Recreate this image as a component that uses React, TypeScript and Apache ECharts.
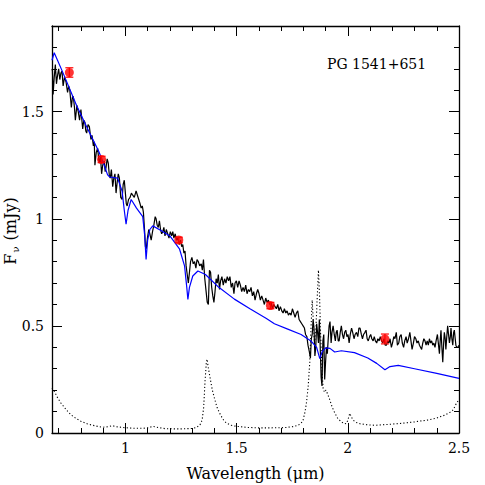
import React, { useEffect, useRef } from "react";
import * as echarts from "echarts";

// Observed spectrum (wavelength in micron, flux in mJy)
const observedSpectrum: [number, number][] = [
  [0.670, 1.70], [0.672, 1.69], [0.675, 1.58], [0.680, 1.66], [0.685, 1.72], [0.690, 1.63], [0.695, 1.67],
  [0.700, 1.70], [0.705, 1.65], [0.710, 1.68], [0.715, 1.69], [0.720, 1.62], [0.726, 1.66], [0.733, 1.64],
  [0.740, 1.59], [0.745, 1.62], [0.750, 1.60], [0.757, 1.52], [0.762, 1.57], [0.766, 1.57], [0.771, 1.52],
  [0.775, 1.46], [0.782, 1.53], [0.788, 1.50], [0.794, 1.46], [0.800, 1.51], [0.808, 1.42], [0.813, 1.46],
  [0.818, 1.45], [0.822, 1.41], [0.826, 1.40], [0.832, 1.44], [0.838, 1.43], [0.845, 1.37], [0.850, 1.39],
  [0.856, 1.34], [0.860, 1.36], [0.863, 1.25], [0.869, 1.31], [0.875, 1.33], [0.880, 1.28], [0.883, 1.26],
  [0.888, 1.29], [0.893, 1.21], [0.898, 1.25], [0.905, 1.27], [0.909, 1.22], [0.913, 1.24], [0.918, 1.28],
  [0.923, 1.26], [0.928, 1.20], [0.932, 1.19], [0.937, 1.23], [0.943, 1.15], [0.948, 1.19], [0.953, 1.21],
  [0.958, 1.12], [0.963, 1.17], [0.968, 1.21], [0.973, 1.19], [0.979, 1.10], [0.985, 1.09], [0.990, 1.16],
  [0.995, 1.18], [1.000, 1.12], [1.004, 1.07], [1.008, 1.06], [1.014, 1.09], [1.021, 1.10], [1.027, 1.12],
  [1.033, 1.11], [1.040, 1.10], [1.048, 1.13], [1.054, 1.11], [1.060, 1.09], [1.066, 1.07], [1.071, 1.05],
  [1.076, 1.06], [1.081, 1.03], [1.086, 0.95], [1.090, 0.87], [1.094, 0.86], [1.099, 0.91], [1.105, 0.95],
  [1.110, 0.93], [1.116, 0.90], [1.122, 0.94], [1.128, 0.97], [1.134, 1.01], [1.138, 1.00], [1.143, 0.97],
  [1.148, 0.96], [1.153, 0.99], [1.158, 0.95], [1.163, 0.93], [1.168, 0.94], [1.173, 0.96], [1.178, 0.92],
  [1.184, 0.95], [1.190, 0.93], [1.196, 0.91], [1.202, 0.94], [1.208, 0.92], [1.213, 0.94], [1.218, 0.91],
  [1.224, 0.93], [1.230, 0.90], [1.236, 0.91], [1.242, 0.88], [1.248, 0.90], [1.253, 0.87], [1.258, 0.88],
  [1.263, 0.84], [1.268, 0.85], [1.273, 0.78], [1.278, 0.74], [1.283, 0.70], [1.288, 0.75], [1.293, 0.80],
  [1.299, 0.82], [1.305, 0.79], [1.311, 0.80], [1.317, 0.77], [1.322, 0.81], [1.328, 0.80], [1.334, 0.78],
  [1.341, 0.79], [1.346, 0.76], [1.351, 0.81], [1.357, 0.72], [1.363, 0.66], [1.368, 0.61], [1.373, 0.60],
  [1.378, 0.76], [1.383, 0.75], [1.388, 0.68], [1.393, 0.64], [1.398, 0.61], [1.403, 0.66], [1.408, 0.72],
  [1.413, 0.70], [1.418, 0.74], [1.423, 0.67], [1.428, 0.71], [1.434, 0.73], [1.440, 0.69], [1.446, 0.72],
  [1.452, 0.70], [1.458, 0.73], [1.464, 0.71], [1.470, 0.73], [1.476, 0.68], [1.482, 0.70], [1.488, 0.65],
  [1.493, 0.70], [1.499, 0.71], [1.505, 0.68], [1.511, 0.71], [1.517, 0.69], [1.523, 0.66], [1.529, 0.68],
  [1.535, 0.66], [1.541, 0.69], [1.547, 0.65], [1.553, 0.67], [1.559, 0.66], [1.565, 0.68], [1.571, 0.64],
  [1.577, 0.66], [1.583, 0.62], [1.589, 0.65], [1.595, 0.67], [1.601, 0.65], [1.607, 0.62], [1.613, 0.64],
  [1.619, 0.62], [1.625, 0.60], [1.631, 0.63], [1.637, 0.61], [1.643, 0.62], [1.649, 0.60], [1.655, 0.61],
  [1.661, 0.58], [1.667, 0.60], [1.673, 0.59], [1.679, 0.58], [1.685, 0.60], [1.691, 0.57], [1.697, 0.59],
  [1.703, 0.57], [1.709, 0.56], [1.715, 0.58], [1.721, 0.56], [1.727, 0.57], [1.733, 0.55], [1.739, 0.56],
  [1.745, 0.55], [1.751, 0.58], [1.757, 0.56], [1.763, 0.54], [1.769, 0.56], [1.775, 0.57], [1.781, 0.53],
  [1.787, 0.52], [1.793, 0.51], [1.799, 0.50], [1.805, 0.49], [1.810, 0.46], [1.816, 0.45], [1.821, 0.41],
  [1.827, 0.38], [1.832, 0.35], [1.836, 0.44], [1.840, 0.46], [1.844, 0.53], [1.848, 0.49], [1.852, 0.36],
  [1.856, 0.40], [1.860, 0.51], [1.864, 0.47], [1.868, 0.42], [1.872, 0.53], [1.876, 0.40], [1.880, 0.26],
  [1.884, 0.22], [1.888, 0.43], [1.892, 0.46], [1.896, 0.25], [1.900, 0.33], [1.904, 0.40], [1.908, 0.37],
  [1.912, 0.44], [1.916, 0.50], [1.920, 0.52], [1.925, 0.42], [1.929, 0.47], [1.934, 0.50], [1.939, 0.46],
  [1.944, 0.43], [1.948, 0.47], [1.952, 0.48], [1.957, 0.43], [1.961, 0.43], [1.966, 0.47], [1.971, 0.50],
  [1.976, 0.46], [1.981, 0.44], [1.986, 0.47], [1.991, 0.48], [1.996, 0.45], [2.001, 0.46], [2.006, 0.42],
  [2.011, 0.46], [2.017, 0.49], [2.022, 0.47], [2.028, 0.44], [2.033, 0.46], [2.039, 0.47], [2.045, 0.45],
  [2.050, 0.49], [2.055, 0.49], [2.061, 0.46], [2.066, 0.44], [2.071, 0.46], [2.077, 0.47], [2.082, 0.48],
  [2.087, 0.44], [2.092, 0.43], [2.098, 0.45], [2.103, 0.46], [2.108, 0.44], [2.114, 0.43], [2.119, 0.45],
  [2.124, 0.43], [2.130, 0.42], [2.135, 0.44], [2.141, 0.43], [2.146, 0.45], [2.152, 0.43], [2.157, 0.42],
  [2.163, 0.44], [2.168, 0.41], [2.174, 0.41], [2.179, 0.43], [2.185, 0.42], [2.190, 0.44], [2.196, 0.40],
  [2.201, 0.42], [2.207, 0.45], [2.212, 0.44], [2.218, 0.47], [2.223, 0.41], [2.229, 0.42], [2.234, 0.45],
  [2.240, 0.46], [2.245, 0.42], [2.251, 0.40], [2.256, 0.43], [2.262, 0.45], [2.267, 0.42], [2.273, 0.44],
  [2.279, 0.47], [2.284, 0.43], [2.289, 0.39], [2.295, 0.42], [2.300, 0.45], [2.306, 0.44], [2.311, 0.42],
  [2.317, 0.43], [2.322, 0.41], [2.327, 0.40], [2.332, 0.39], [2.337, 0.42], [2.342, 0.44], [2.347, 0.43],
  [2.352, 0.41], [2.357, 0.43], [2.362, 0.41], [2.367, 0.44], [2.372, 0.42], [2.377, 0.43], [2.382, 0.41],
  [2.387, 0.42], [2.392, 0.40], [2.397, 0.43], [2.403, 0.46], [2.408, 0.41], [2.412, 0.37], [2.416, 0.44],
  [2.419, 0.48], [2.423, 0.40], [2.427, 0.33], [2.431, 0.42], [2.434, 0.47], [2.438, 0.44], [2.441, 0.39],
  [2.445, 0.45], [2.449, 0.50], [2.453, 0.46], [2.457, 0.42], [2.461, 0.45], [2.464, 0.49], [2.468, 0.44],
  [2.472, 0.41], [2.476, 0.47], [2.479, 0.48], [2.483, 0.44], [2.486, 0.41], [2.490, 0.40], [2.495, 0.40],
  [2.500, 0.41],
];

// Model atmosphere (blue)
const modelSpectrum: [number, number][] = [
  [0.670, 1.74], [0.680, 1.775], [0.720, 1.68], [0.780, 1.53], [0.830, 1.42], [0.880, 1.315], [0.905, 1.25],
  [0.920, 1.205], [0.930, 1.195], [0.965, 1.19], [0.985, 1.13], [0.995, 1.04], [1.003, 0.975], [1.012, 1.04],
  [1.026, 1.09], [1.050, 1.05], [1.078, 1.01], [1.087, 0.92], [1.093, 0.81], [1.100, 0.90], [1.110, 0.95],
  [1.123, 0.967], [1.160, 0.945], [1.200, 0.92], [1.243, 0.86], [1.266, 0.78], [1.276, 0.68], [1.281, 0.624],
  [1.288, 0.68], [1.303, 0.733], [1.326, 0.756], [1.360, 0.74], [1.420, 0.68], [1.490, 0.625], [1.560, 0.58],
  [1.634, 0.535], [1.670, 0.51], [1.730, 0.485], [1.790, 0.46], [1.836, 0.428], [1.860, 0.40], [1.874, 0.347],
  [1.885, 0.38], [1.900, 0.397], [1.920, 0.395], [1.941, 0.378], [1.971, 0.384], [2.030, 0.375], [2.090, 0.35],
  [2.130, 0.325], [2.167, 0.295], [2.190, 0.31], [2.227, 0.316], [2.300, 0.30], [2.400, 0.278], [2.500, 0.255],
];

// Noise / telluric spectrum (dotted)
const noiseSpectrum: [number, number][] = [
  [0.670, 0.21], [0.680, 0.195], [0.695, 0.165], [0.710, 0.14], [0.733, 0.11], [0.755, 0.085], [0.778, 0.068],
  [0.800, 0.055], [0.830, 0.042], [0.853, 0.036], [0.875, 0.031], [0.898, 0.027], [0.920, 0.029], [0.943, 0.034],
  [0.960, 0.029], [0.995, 0.025], [1.040, 0.022], [1.080, 0.022], [1.105, 0.025], [1.123, 0.031], [1.140, 0.027],
  [1.180, 0.020], [1.240, 0.019], [1.300, 0.021], [1.318, 0.025], [1.335, 0.037], [1.345, 0.06], [1.352, 0.12],
  [1.358, 0.24], [1.364, 0.33], [1.367, 0.345], [1.372, 0.31], [1.381, 0.256], [1.391, 0.20], [1.401, 0.16],
  [1.412, 0.12], [1.423, 0.094], [1.438, 0.065], [1.453, 0.047], [1.475, 0.036], [1.500, 0.031], [1.550, 0.026],
  [1.600, 0.024], [1.650, 0.024], [1.716, 0.025], [1.755, 0.03], [1.776, 0.036], [1.790, 0.045], [1.799, 0.06],
  [1.808, 0.10], [1.814, 0.14], [1.822, 0.22], [1.829, 0.33], [1.835, 0.50], [1.840, 0.62], [1.845, 0.52],
  [1.850, 0.42], [1.856, 0.47], [1.862, 0.62], [1.868, 0.76], [1.873, 0.64], [1.878, 0.45], [1.884, 0.29],
  [1.889, 0.21], [1.895, 0.19], [1.902, 0.20], [1.910, 0.18], [1.919, 0.155], [1.930, 0.12], [1.941, 0.095],
  [1.955, 0.068], [1.971, 0.052], [1.985, 0.043], [1.995, 0.045], [2.003, 0.07], [2.009, 0.092], [2.016, 0.075],
  [2.024, 0.06], [2.036, 0.05], [2.055, 0.043], [2.090, 0.038], [2.122, 0.036], [2.180, 0.04], [2.242, 0.045],
  [2.300, 0.052], [2.362, 0.061], [2.400, 0.07], [2.437, 0.084], [2.460, 0.097], [2.474, 0.108], [2.489, 0.14],
  [2.500, 0.155],
];

// Photometry (red points)
const photometryX = [0.748, 0.893, 1.240, 1.652, 2.167];
const photometryY = [1.683, 1.277, 0.901, 0.595, 0.439];
const photometryErr = [0.022, 0.015, 0.013, 0.015, 0.023];

const xMajorTicks = [1, 1.5, 2, 2.5];
const xMinorTicks = [0.7, 0.8, 0.9, 1.1, 1.2, 1.3, 1.4, 1.6, 1.7, 1.8, 1.9, 2.1, 2.2, 2.3, 2.4];
const yMajorTicks = [0, 0.5, 1, 1.5];
const yMinorTicks = [0.1, 0.2, 0.3, 0.4, 0.6, 0.7, 0.8, 0.9, 1.1, 1.2, 1.3, 1.4, 1.6, 1.7, 1.8];

const X_MIN = 0.67;
const X_MAX = 2.5;
const Y_MIN = 0;
const Y_MAX = 1.9;

const X_TITLE = "Wavelength (\u03bcm)";
const TARGET_NAME = "PG 1541+651";

const FONT = '"DejaVu Serif", "Liberation Serif", serif';

export default function App() {
  const ref = useRef<HTMLDivElement>(null);

  useEffect(() => {
    if (!ref.current) return;
    const chart = echarts.init(ref.current, undefined, { renderer: "svg" });

    const axisLineStyle = { color: "#000", width: 1.3 };

    const makeX = (pos: "bottom" | "top", major: boolean, withLabels: boolean) => ({
      type: "value",
      position: pos,
      min: X_MIN,
      max: X_MAX,
      gridIndex: 0,
      axisLine: { show: major, onZero: false, lineStyle: axisLineStyle },
      axisTick: {
        show: true,
        inside: true,
        length: major ? 10 : 5,
        customValues: major ? xMajorTicks : xMinorTicks,
        lineStyle: { color: "#000", width: 1 },
      },
      axisLabel: withLabels
        ? {
            show: true,
            customValues: xMajorTicks,
            margin: 8,
            color: "#000",
            fontSize: 14,
            fontFamily: FONT,
          }
        : { show: false },
      splitLine: { show: false },
      ...(withLabels
        ? {
            name: X_TITLE,
            nameLocation: "middle",
            nameGap: 32,
            nameTextStyle: { color: "#000", fontSize: 16, fontFamily: FONT },
          }
        : {}),
    });

    const makeY = (pos: "left" | "right", major: boolean, withLabels: boolean) => ({
      type: "value",
      position: pos,
      min: Y_MIN,
      max: Y_MAX,
      gridIndex: 0,
      axisLine: { show: major, onZero: false, lineStyle: axisLineStyle },
      axisTick: {
        show: true,
        inside: true,
        length: major ? 10 : 5,
        customValues: major ? yMajorTicks : yMinorTicks,
        lineStyle: { color: "#000", width: 1 },
      },
      axisLabel: withLabels
        ? {
            show: true,
            customValues: yMajorTicks,
            margin: 8,
            color: "#000",
            fontSize: 14,
            fontFamily: FONT,
          }
        : { show: false },
      splitLine: { show: false },
    });

    const option = {
      animation: false,
      backgroundColor: "#fff",
      grid: { left: 52, right: 26, top: 26, bottom: 52, outerBoundsMode: "none" },
      xAxis: [
        makeX("bottom", true, true),
        makeX("bottom", false, false),
        makeX("top", true, false),
        makeX("top", false, false),
      ],
      yAxis: [
        makeY("left", true, true),
        makeY("left", false, false),
        makeY("right", true, false),
        makeY("right", false, false),
      ],
      graphic: [
        {
          type: "text",
          left: 327,
          top: 57,
          style: {
            text: TARGET_NAME,
            fontSize: 14,
            fontFamily: FONT,
            fill: "#000",
          },
        },
        {
          type: "text",
          x: 10,
          y: 231,
          rotation: Math.PI / 2,
          style: {
            text: "{a|F}{b|\u03bd}{a| (mJy)}",
            align: "center",
            verticalAlign: "middle",
            fill: "#000",
            rich: {
              a: { fontSize: 16, fontFamily: FONT, fill: "#000" },
              b: { fontSize: 10, fontFamily: FONT, fill: "#000", padding: [10, 1, 0, 1] },
            },
          },
        },
      ],
      series: [
        {
          type: "line",
          name: "noise",
          xAxisIndex: 0,
          yAxisIndex: 0,
          data: noiseSpectrum,
          showSymbol: false,
          symbol: "none",
          lineStyle: { color: "#000", width: 1.1, type: [1.2, 2.2] },
          clip: true,
          z: 2,
        },
        {
          type: "line",
          name: "observed",
          xAxisIndex: 0,
          yAxisIndex: 0,
          data: observedSpectrum,
          showSymbol: false,
          symbol: "none",
          lineStyle: { color: "#000", width: 1.2 },
          clip: true,
          z: 3,
        },
        {
          type: "line",
          name: "model",
          xAxisIndex: 0,
          yAxisIndex: 0,
          data: modelSpectrum,
          showSymbol: false,
          symbol: "none",
          lineStyle: { color: "#0000ff", width: 1.2 },
          clip: true,
          z: 4,
        },
        {
          type: "custom",
          name: "errors",
          xAxisIndex: 0,
          yAxisIndex: 0,
          data: photometryX.map((x, i) => [x, photometryY[i], photometryErr[i]]),
          renderItem: (params: any, api: any) => {
            const x = api.value(0);
            const y = api.value(1);
            const e = api.value(2);
            const top = api.coord([x, y + e]);
            const bot = api.coord([x, y - e]);
            const hw = 4;
            const st = { stroke: "#ff0000", lineWidth: 1.2 };
            return {
              type: "group",
              children: [
                { type: "line", shape: { x1: top[0], y1: top[1], x2: bot[0], y2: bot[1] }, style: st },
                { type: "line", shape: { x1: top[0] - hw, y1: top[1], x2: top[0] + hw, y2: top[1] }, style: st },
                { type: "line", shape: { x1: bot[0] - hw, y1: bot[1], x2: bot[0] + hw, y2: bot[1] }, style: st },
              ],
            };
          },
          z: 5,
        },
        {
          type: "scatter",
          name: "photometry",
          xAxisIndex: 0,
          yAxisIndex: 0,
          data: photometryX.map((x, i) => [x, photometryY[i]]),
          symbol: "circle",
          symbolSize: 9,
          itemStyle: { color: "#ff0000" },
          z: 6,
        },
      ],
    };

    chart.setOption(option as any);
    return () => {
      chart.dispose();
    };
  }, []);

  return (
    <div
      ref={ref}
      style={{ position: "fixed", left: 0, top: 0, width: 485, height: 485, background: "#fff" }}
    />
  );
}
